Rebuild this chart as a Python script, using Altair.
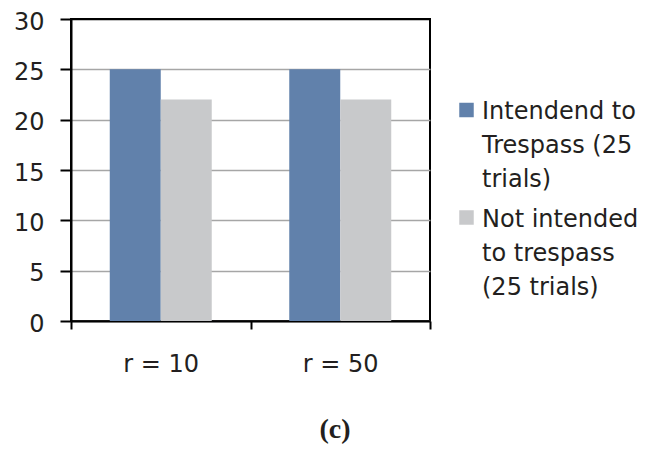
import altair as alt
import pandas as pd

categories = ["r = 10", "r = 50"]
series = ["Intendend to Trespass (25 trials)", "Not intended to trespass (25 trials)"]
intended = [25, 25]
not_intended = [22, 22]
legend_lines = [["Intendend to", "Trespass (25", "trials)"],
                ["Not intended", "to trespass", "(25 trials)"]]
colors = ["#6181ab", "#c8c9cb"]
y_ticks = [0, 5, 10, 15, 20, 25, 30]
caption = "(c)"

rows = []
for i, c in enumerate(categories):
    rows.append({"cat": c, "series": series[0], "value": intended[i]})
    rows.append({"cat": c, "series": series[1], "value": not_intended[i]})
df = pd.DataFrame(rows)

FONT = "DejaVu Sans"
FS = 24

bars = alt.Chart(df).mark_bar().encode(
    x=alt.X("cat:N", sort=categories,
            scale=alt.Scale(paddingInner=0, paddingOuter=0),
            axis=alt.Axis(title=None, labelAngle=0, tickBand="extent", grid=False,
                          tickSize=8, labelPadding=23, labelBaseline="top")),
    xOffset=alt.XOffset("series:N", sort=series,
                        scale=alt.Scale(paddingInner=0, paddingOuter=0.76)),
    y=alt.Y("value:Q", scale=alt.Scale(domain=[0, 30], nice=False),
            axis=alt.Axis(title=None, values=y_ticks, tickSize=11, labelPadding=16,
                          labelOffset=3, grid=True,
                          gridColor=alt.condition("datum.value == 30", alt.value("black"), alt.value("#a6a6a6")))),
    color=alt.Color("series:N", scale=alt.Scale(domain=series, range=colors), legend=None),
)

layers = [bars]
legend_df = pd.DataFrame({"series": series, "label": ["\n".join(l) for l in legend_lines]})
for i, s in enumerate(series):
    sub = alt.Chart(legend_df).transform_filter(alt.datum.series == s)
    layers.append(sub.mark_square(size=210, opacity=1, filled=True).encode(
        x=alt.value(395.5), y=alt.value(91 + i * 107.5),
        color=alt.value(colors[i])))
    layers.append(sub.mark_text(align="left", baseline="alphabetic", font=FONT,
                                fontSize=FS, lineBreak="\n", lineHeight=34,
                                color="#231f20").encode(
        x=alt.value(411), y=alt.value(100 + i * 108), text="label:N"))

cap = alt.Chart(pd.DataFrame({"t": [caption]})).mark_text(
    font="Liberation Serif", fontWeight="bold", fontSize=28, baseline="alphabetic",
    align="center", color="#231f20").encode(
    x=alt.value(264), y=alt.value(419), text="t:N")
layers.append(cap)

chart = alt.layer(*layers).properties(
    width=359, height=302,
    autosize=alt.AutoSizeParams(type="none"),
    padding={"left": 63, "top": 11, "right": 212, "bottom": 124},
).configure_view(stroke="black", strokeWidth=2).configure_axis(
    domainColor="black", domainWidth=2, tickColor="black", tickWidth=2,
    labelFont=FONT, labelFontSize=FS, labelColor="#231f20", gridWidth=1.5,
)

chart.save("out.html", embed_options={"renderer": "svg", "actions": False})
